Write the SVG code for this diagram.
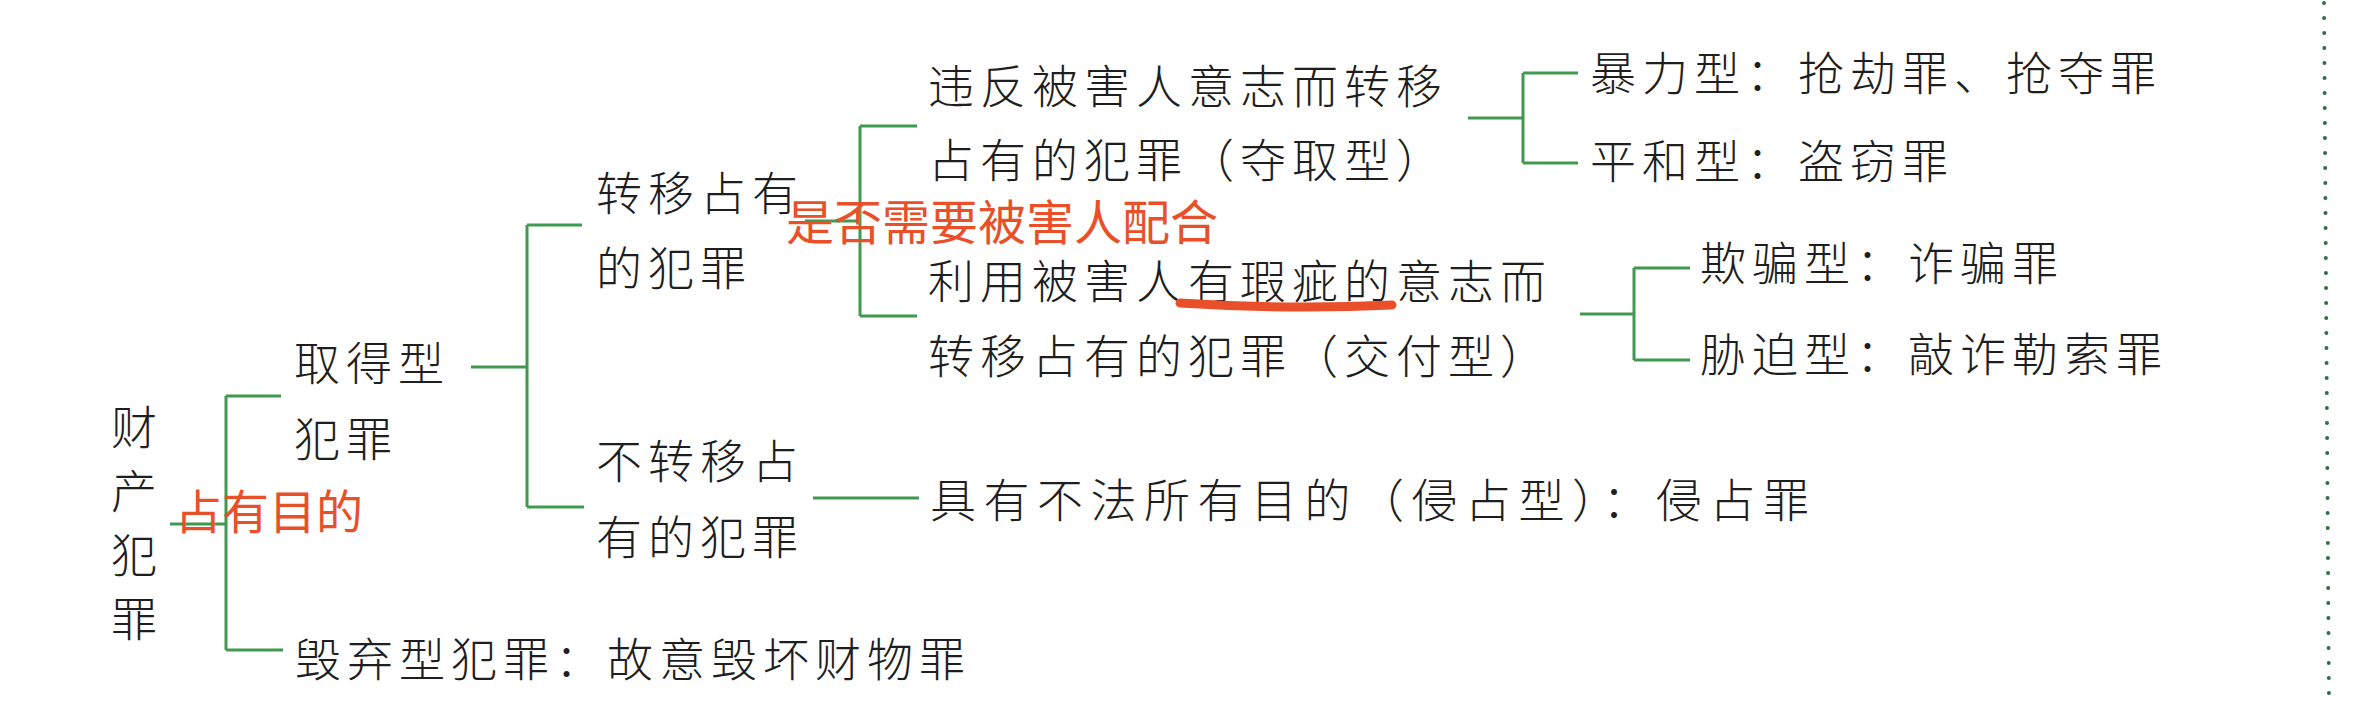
<svg xmlns="http://www.w3.org/2000/svg" width="2360" height="710" viewBox="0 0 2360 710">
<style>
.t{font-family:"Noto Sans CJK SC","Noto Sans CJK JP",sans-serif;font-weight:300;font-size:46px;letter-spacing:6px;fill:#1e1e1e;dominant-baseline:central}
.v{font-family:"Noto Sans CJK SC","Noto Sans CJK JP",sans-serif;font-weight:300;font-size:46px;fill:#1e1e1e;dominant-baseline:central;text-anchor:middle}
.c{fill:none;stroke:#3f9a50;stroke-width:3}
.r{font-family:"Noto Sans CJK SC","Noto Sans CJK JP",sans-serif;font-weight:400;fill:#E9502A;dominant-baseline:central}
</style>
<rect width="2360" height="710" fill="#ffffff"/>
<g id="connectors">
<path class="c" d="M170 524H226M226 396V650M226 396H281M226 650H283"/>
<path class="c" d="M471 367H527M527 225V507M527 225H582M527 507H584"/>
<path class="c" d="M805 221H860M860 126V316M860 126H917M860 316H917"/>
<path class="c" d="M1468 118H1523M1523 73V163M1523 73H1578M1523 163H1578"/>
<path class="c" d="M1580 314H1634M1634 268V360M1634 268H1690M1634 360H1690"/>
<path class="c" d="M813 498H919"/>
</g>
<g id="margin">
<line x1="2324" y1="3" x2="2329" y2="703" stroke="#2f6e48" stroke-width="4" stroke-linecap="round" stroke-dasharray="0 15"/>
</g>
<g id="n-root">
<text class="v" x="134"><tspan x="134" y="424">财</tspan><tspan x="134" y="488">产</tspan><tspan x="134" y="552">犯</tspan><tspan x="134" y="616">罪</tspan></text>
</g>
<g id="n-qude">
<text class="t" x="294" y="360">取得型</text>
<text class="t" x="294" y="436">犯罪</text>
</g>
<g id="n-zhuanyi">
<text class="t" x="596" y="190">转移占有</text>
<text class="t" x="596" y="265">的犯罪</text>
</g>
<g id="n-buzhuanyi">
<text class="t" x="596" y="458">不转移占</text>
<text class="t" x="596" y="534">有的犯罪</text>
</g>
<g id="n-duoqu">
<text class="t" x="928" y="83">违反被害人意志而转移</text>
<text class="t" x="928" y="157">占有的犯罪（夺取型）</text>
</g>
<g id="n-jiaofu">
<text class="t" x="928" y="278">利用被害人有瑕疵的意志而</text>
<text class="t" x="928" y="353">转移占有的犯罪（交付型）</text>
</g>
<g id="n-baoli"><text class="t" x="1590" y="70">暴力型：抢劫罪、抢夺罪</text></g>
<g id="n-pinghe"><text class="t" x="1590" y="158">平和型：盗窃罪</text></g>
<g id="n-qipian"><text class="t" x="1700" y="260">欺骗型：诈骗罪</text></g>
<g id="n-xiepo"><text class="t" x="1700" y="351">胁迫型：敲诈勒索罪</text></g>
<g id="n-qinzhan"><text class="t" x="930" y="497" style="letter-spacing:7.5px">具有不法所有目的（侵占型）：侵占罪</text></g>
<g id="n-huiqi"><text class="t" x="295" y="656">毁弃型犯罪：故意毁坏财物罪</text></g>
<g id="annotations">
<path d="M1180 303Q1290 310 1392 305" fill="none" stroke="#E9502A" stroke-width="9" stroke-linecap="round"/>
<text class="r" x="175" y="508" font-size="47">占有目的</text>
<text class="r" x="786" y="219" font-size="48">是否需要被害人配合</text>
</g>
</svg>
